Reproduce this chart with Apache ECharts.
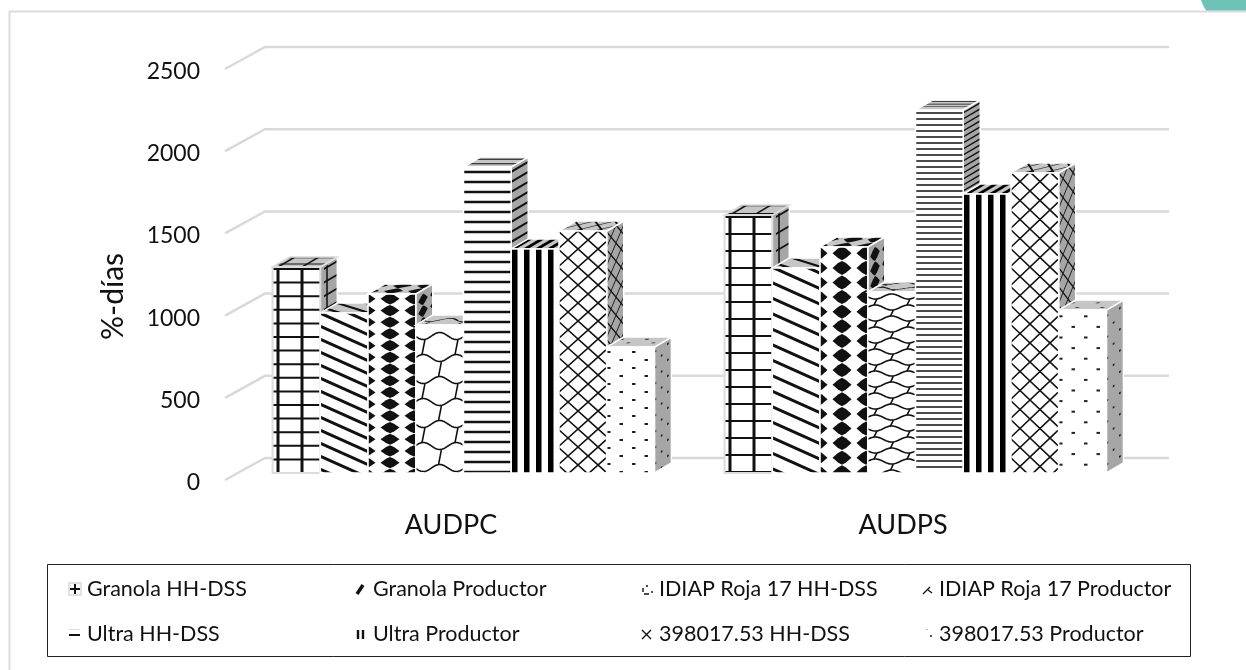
<!DOCTYPE html>
<html>
<head>
<meta charset="utf-8">
<style>html,body{margin:0;padding:0;background:#fff}#chart{width:1246px;height:670px}</style>
<script src="https://cdn.jsdelivr.net/npm/echarts@6/dist/echarts.min.js"></script>
</head>
<body>
<div id="chart"></div>
<script>
// Area under the disease progress curve, per potato variety and decision method
const categories = ['AUDPC', 'AUDPS'];
const tickValues = [0, 500, 1000, 1500, 2000, 2500];
const granolaHH = [1253, 1569];
const granolaProd = [973, 1247];
const idiapHH = [1089, 1375];
const idiapProd = [900, 1101];
const ultraHH = [1861, 2208];
const ultraProd = [1363, 1697];
const clonHH = [1472, 1825];
const clonProd = [766, 991];
const seriesNames = ['Granola HH-DSS', 'Granola Productor', 'IDIAP Roja 17 HH-DSS', 'IDIAP Roja 17 Productor',
  'Ultra HH-DSS', 'Ultra Productor', '398017.53 HH-DSS', '398017.53 Productor'];
const seriesValues = [granolaHH, granolaProd, idiapHH, idiapProd, ultraHH, ultraProd, clonHH, clonProd];

// Fill style of each series and the pattern repeat it uses in each category
const fillKinds = ['grid', 'diag', 'diamond', 'wave', 'hlines', 'vlines', 'lattice', 'dots'];
const fillPeriods = [
  [13.6, 13, 11.7, 22, 10, 12, 18, 8],
  [17, 15.5, 14.6, 11, 6, 12, 19, 10.6]
];
const sideShift = { grid: 4, diamond: 9 };

const INK = '#111';
const WALL = { dx: 40, dy: -22 };
const BAR_INSET = { dx: 12.5, dy: -7 };
const BAR_DEPTH = { dx: 17, dy: -10 };
const BAR_SHARE = 0.1056;

function lineSet(ctx, segments, width) {
  ctx.strokeStyle = INK;
  ctx.lineWidth = width;
  ctx.beginPath();
  segments.forEach(s => { ctx.moveTo(s[0], s[1]); ctx.lineTo(s[2], s[3]); });
  ctx.stroke();
}

// Draws one fill style over the w x h rectangle of the current canvas space
const painters = {
  grid(ctx, w, h, p) {
    const hs = [], vs = [];
    for (let y = 2; y < h; y += p) hs.push([0, y, w, y]);
    for (let x = 6; x < w; x += 24) vs.push([x, 0, x, h]);
    lineSet(ctx, hs, 2);
    lineSet(ctx, vs, 3);
  },
  diag(ctx, w, h, p) {
    const s = 0.45, segs = [];
    for (let c = -Math.ceil(s * w / p) * p; c < h; c += p) segs.push([0, c, w, c + s * w]);
    lineSet(ctx, segs, 3);
  },
  diamond(ctx, w, h, p) {
    ctx.fillStyle = INK;
    for (let y = p / 2; y < h + p; y += p) {
      for (let x = -2; x < w + 12; x += 24) {
        ctx.beginPath();
        ctx.moveTo(x - 9.5, y);
        ctx.lineTo(x - 4, y - p * 0.33);
        ctx.lineTo(x, y - p * 0.48);
        ctx.lineTo(x + 4, y - p * 0.33);
        ctx.lineTo(x + 9.5, y);
        ctx.lineTo(x + 4, y + p * 0.33);
        ctx.lineTo(x, y + p * 0.48);
        ctx.lineTo(x - 4, y + p * 0.33);
        ctx.closePath();
        ctx.fill();
      }
    }
  },
  wave(ctx, w, h, p) {
    const period = 33, amp = Math.max(2.5, p * 0.16);
    const rowY = (x, y, row) => y + amp * Math.sin((x / period + row / 2) * 2 * Math.PI);
    ctx.strokeStyle = INK;
    ctx.lineWidth = 1.6;
    let row = 0;
    for (let y = p / 2; y < h + p; y += p, row++) {
      ctx.beginPath();
      for (let x = 0; x <= w; x += 1) {
        const v = rowY(x, y, row);
        if (x === 0) ctx.moveTo(x, v); else ctx.lineTo(x, v);
      }
      // slanted links joining this wave to the next one down
      for (let lx = 10 + (row % 2) * period / 2; lx < w + 6; lx += period) {
        ctx.moveTo(lx, rowY(lx, y, row));
        ctx.lineTo(lx - 3, rowY(lx - 3, y + p, row + 1));
      }
      ctx.stroke();
    }
  },
  hlines(ctx, w, h, p) {
    const segs = [];
    for (let y = p / 2; y < h; y += p) segs.push([0, y, w, y]);
    lineSet(ctx, segs, p < 8 ? 1.6 : 2.4);
  },
  vlines(ctx, w, h, p) {
    ctx.fillStyle = '#000';
    for (let x = 1; x < w; x += p) ctx.fillRect(x, 0, 5.5, h);
  },
  lattice(ctx, w, h, p) {
    const px = 20, s = p / px, segs = [];
    for (let c = -Math.ceil(s * w / p) * p; c < h + s * w; c += p) {
      segs.push([0, c, w, c + s * w]);
      segs.push([0, c, w, c - s * w]);
    }
    lineSet(ctx, segs, 1.6);
  },
  dots(ctx, w, h, p) {
    ctx.fillStyle = '#222';
    let row = 0;
    for (let y = p / 2; y < h; y += p, row++) {
      for (let x = 1 + (row % 2) * 12.5; x < w; x += 25) ctx.fillRect(x, y, 3.5, 2);
    }
  }
};

function faceCanvas(w, h) {
  const c = document.createElement('canvas');
  c.width = Math.max(1, Math.ceil(w));
  c.height = Math.max(1, Math.ceil(h));
  return c;
}

function frontFill(kind, w, h, p, x, y) {
  const c = faceCanvas(w, h), ctx = c.getContext('2d');
  ctx.fillStyle = '#fff';
  ctx.fillRect(0, 0, c.width, c.height);
  painters[kind](ctx, c.width, c.height, p);
  return { image: c, repeat: 'no-repeat', x: x, y: y };
}

// Side face: the fill is squeezed horizontally and sheared along the depth
function sideFill(kind, h, p, x, y) {
  const dw = BAR_DEPTH.dx, dh = -BAR_DEPTH.dy, sx = 0.5;
  const c = faceCanvas(dw + 1, h + dh + 1), ctx = c.getContext('2d');
  ctx.fillStyle = '#a6a6a6';
  ctx.fillRect(0, 0, c.width, c.height);
  ctx.setTransform(sx, -sx * dh / dw, 0, 1, sideShift[kind] || 0, dh);
  painters[kind](ctx, (dw + 1) / sx, h + 2, p);
  return { image: c, repeat: 'no-repeat', x: x, y: y };
}

// Top face: the fill is flattened and sheared towards the back of the bar
function topFill(kind, w, p, x, y) {
  const dw = BAR_DEPTH.dx, dh = -BAR_DEPTH.dy, localH = dh / 0.45;
  const c = faceCanvas(w + dw + 1, dh + 1), ctx = c.getContext('2d');
  ctx.fillStyle = '#c6c6c6';
  ctx.fillRect(0, 0, c.width, c.height);
  ctx.setTransform(1, 0, -dw / localH, dh / localH, dw, 0);
  painters[kind](ctx, w + 2, localH + 1, p);
  return { image: c, repeat: 'no-repeat', x: x, y: y };
}

// Little key drawn beside each legend label
function legendSwatch(i) {
  const c = faceCanvas(14, 14), ctx = c.getContext('2d');
  const seg = (s, w) => lineSet(ctx, s, w);
  if (i === 0) {
    ctx.fillStyle = '#e2e2e2'; ctx.fillRect(0, 0, 14, 14);
    ctx.fillStyle = '#fff'; ctx.fillRect(2, 2, 10, 10);
    seg([[2, 7, 12, 7], [7, 2, 7, 12]], 2);
  } else if (i === 1) {
    seg([[3, 12, 9, 3]], 3.5);
  } else if (i === 2) {
    seg([[3, 6, 3, 10], [4, 12, 9, 12], [12, 11, 12, 9], [6, 4, 8, 4]], 1.4);
  } else if (i === 3) {
    seg([[3, 12, 10, 5], [8, 8, 12, 11]], 1.3);
  } else if (i === 4) {
    ctx.fillStyle = '#ddd'; ctx.fillRect(1, 2, 11, 1);
    seg([[1, 8, 12, 8]], 2);
  } else if (i === 5) {
    seg([[4, 3, 4, 12], [9, 3, 9, 12]], 2.4);
  } else if (i === 6) {
    seg([[2, 3, 11, 12], [11, 3, 2, 12]], 1.4);
  } else {
    ctx.fillStyle = '#555'; ctx.fillRect(10, 8, 2, 2);
    ctx.fillStyle = '#bbb'; ctx.fillRect(6, 2, 2, 1);
  }
  return 'image://' + c.toDataURL();
}

function renderWall(params, api) {
  const cs = params.coordSys;
  const y = api.coord([0, api.value(0)])[1];
  return {
    type: 'polyline',
    shape: { points: [[cs.x, y], [cs.x + WALL.dx, y + WALL.dy], [cs.x + cs.width + WALL.dx, y + WALL.dy]] },
    style: { fill: 'none', stroke: '#d9d9d9', lineWidth: 2.5 }
  };
}

function renderBar(seriesPos) {
  return function (params, api) {
    const catIndex = api.value(0);
    const top = api.coord([catIndex, api.value(1)]);
    const base = api.coord([catIndex, 0]);
    const band = api.size([1, 0])[0];
    const w = band * BAR_SHARE;
    const x0 = top[0] + BAR_INSET.dx + (seriesPos - seriesNames.length / 2) * w;
    const x1 = x0 + w;
    const yTop = top[1] + BAR_INSET.dy;
    const yBase = base[1] + BAR_INSET.dy;
    const h = yBase - yTop;
    const kind = fillKinds[seriesPos];
    const p = fillPeriods[catIndex][seriesPos];
    const dx = BAR_DEPTH.dx, dy = BAR_DEPTH.dy;
    const edge = seriesPos === 0 ? '#dcdcdc' : '#fff';
    const edgeW = seriesPos === 0 ? 2 : 1.5;
    return {
      type: 'group',
      children: [
        {
          type: 'polygon',
          shape: { points: [[x1, yTop], [x1 + dx, yTop + dy], [x1 + dx, yBase + dy], [x1, yBase]] },
          style: { fill: sideFill(kind, h, p, Math.floor(x1), Math.floor(yTop + dy)), stroke: '#fff', lineWidth: 1.5 }
        },
        {
          type: 'polygon',
          shape: { points: [[x0, yTop], [x0 + dx, yTop + dy], [x1 + dx, yTop + dy], [x1, yTop]] },
          style: { fill: topFill(kind, w, p, Math.floor(x0), Math.floor(yTop + dy)), stroke: seriesPos === 0 ? '#dcdcdc' : '#fff', lineWidth: 1.5 }
        },
        {
          type: 'polygon',
          shape: { points: [[x0, yTop], [x1, yTop], [x1, yBase], [x0, yBase]] },
          style: { fill: frontFill(kind, w, h, p, Math.floor(x0), Math.floor(yTop)), stroke: edge, lineWidth: edgeW }
        }
      ]
    };
  };
}

const legendLefts = [68, 354, 640, 920];
const legendTops = [578, 623];
const FONT = 'Lato, "Open Sans", sans-serif';

const barSeries = seriesNames.map((name, i) => ({
  name: name,
  type: 'custom',
  coordinateSystem: 'cartesian2d',
  z: 3,
  encode: { x: 0, y: 1 },
  data: seriesValues[i].map((v, c) => [c, v]),
  renderItem: renderBar(i)
}));

const legends = seriesNames.map((name, i) => ({
  show: true,
  selectedMode: false,
  orient: 'horizontal',
  left: legendLefts[i % 4],
  top: legendTops[Math.floor(i / 4)],
  padding: 0,
  itemWidth: 14,
  itemHeight: 14,
  textStyle: { fontFamily: FONT, fontSize: 21.5, color: '#111' },
  data: [{ name: name, icon: legendSwatch(i) }]
}));

const chart = echarts.init(document.getElementById('chart'), null, { renderer: 'canvas' });
chart.setOption({
  animation: false,
  backgroundColor: '#fff',
  grid: { left: 225, top: 69, width: 904, height: 411 },
  legend: legends,
  xAxis: {
    type: 'category',
    data: categories,
    axisLine: { show: false },
    axisTick: { show: false },
    axisLabel: { fontFamily: FONT, fontSize: 27, color: '#111', margin: 32 }
  },
  yAxis: {
    type: 'value',
    min: 0,
    max: 2500,
    interval: 500,
    name: '%-días',
    nameLocation: 'middle',
    nameGap: 97,
    nameRotate: 90,
    nameTextStyle: { fontFamily: FONT, fontSize: 30, color: '#111', padding: [0, 44, 0, 0] },
    axisLine: { show: false },
    axisTick: { show: false },
    splitLine: { show: false },
    axisLabel: {
      margin: 25,
      formatter: v => '{t|' + v + '}',
      rich: { t: { fontFamily: FONT, fontSize: 23, color: '#111', padding: [5, 0, 0, 0] } }
    }
  },
  graphic: [
    { type: 'polyline', silent: true, z: 0, shape: { points: [[9.5, 670], [9.5, 11.5], [1246, 11.5]] },
      style: { fill: 'none', stroke: '#dcdcdc', lineWidth: 2 } },
    { type: 'polygon', silent: true, z: 0, shape: { points: [[1201, 0], [1203, 5], [1206, 10.5], [1246, 10.5], [1246, 0]] },
      style: { fill: '#6fc2b8' } },
    { type: 'rect', silent: true, z: 0, shape: { x: 47.5, y: 564.5, width: 1143, height: 92 },
      style: { fill: 'none', stroke: '#222', lineWidth: 1 } }
  ],
  series: [{
    type: 'custom',
    coordinateSystem: 'cartesian2d',
    z: 1,
    silent: true,
    encode: { y: 0 },
    data: tickValues.map(v => [v]),
    renderItem: renderWall
  }].concat(barSeries)
});
</script>
</body>
</html>
